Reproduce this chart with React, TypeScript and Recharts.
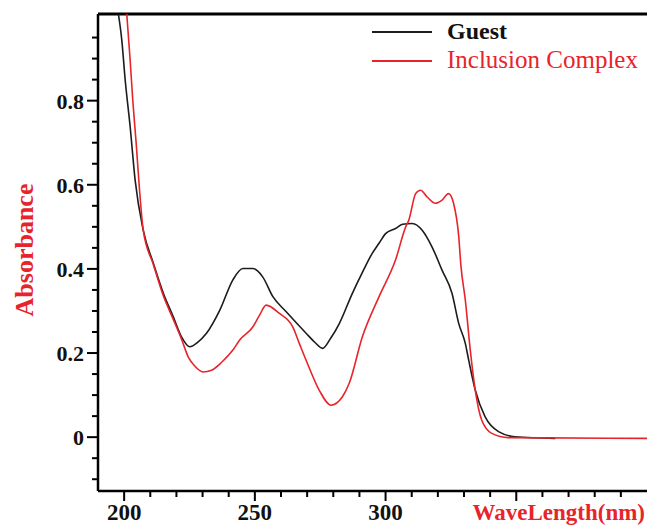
import React from 'react';
import { LineChart, Line, XAxis, YAxis, ReferenceLine, Legend } from 'recharts';

// ---- data ----
const guestWavelength = [197.8, 199.1, 200.4, 202.3, 204.2, 207.3, 211.2, 215.0, 218.8, 222.0, 225.1, 228.0, 231.5, 236.6, 241.6, 245.4, 249.2, 253.0, 256.9, 262.0, 269.6, 273.0, 275.9, 279.0, 282.3, 287.3, 291.0, 294.9, 297.5, 300.0, 303.8, 306.5, 310.2, 314.0, 317.8, 321.6, 325.4, 328.0, 330.5, 331.8, 334.3, 338.1, 343.2, 349.5, 364.9];
const guestAbsorbance = [1.006, 0.944, 0.849, 0.738, 0.611, 0.492, 0.413, 0.342, 0.286, 0.238, 0.215, 0.225, 0.247, 0.302, 0.374, 0.401, 0.401, 0.381, 0.334, 0.298, 0.247, 0.225, 0.211, 0.235, 0.270, 0.342, 0.390, 0.437, 0.461, 0.484, 0.496, 0.506, 0.508, 0.492, 0.452, 0.397, 0.342, 0.270, 0.223, 0.183, 0.112, 0.048, 0.013, 0.001, -0.003];

const complexWavelength = [201.0, 202.3, 203.3, 204.6, 205.8, 207.3, 211.2, 215.0, 218.8, 222.0, 224.5, 227.0, 230.2, 233.4, 237.3, 241.6, 244.2, 249.2, 251.8, 254.3, 259.4, 264.5, 267.0, 269.6, 274.6, 279.1, 283.5, 286.1, 291.1, 297.5, 303.8, 307.7, 308.9, 311.5, 313.4, 315.9, 319.1, 321.5, 324.1, 326.0, 328.0, 328.8, 330.5, 332.4, 334.3, 336.8, 340.6, 347.0, 400.0];
const complexAbsorbance = [1.006, 0.896, 0.801, 0.699, 0.595, 0.492, 0.410, 0.336, 0.280, 0.232, 0.191, 0.169, 0.155, 0.159, 0.178, 0.207, 0.231, 0.262, 0.290, 0.314, 0.294, 0.262, 0.223, 0.183, 0.112, 0.076, 0.096, 0.128, 0.238, 0.334, 0.421, 0.500, 0.516, 0.579, 0.587, 0.571, 0.556, 0.563, 0.579, 0.556, 0.476, 0.409, 0.326, 0.207, 0.112, 0.040, 0.009, -0.001, -0.003];

const seriesNames = ['Guest', 'Inclusion Complex'];
const seriesColors = ['#1c1c1c', '#e8242b'];

const xTicks = [200, 210, 220, 230, 240, 250, 260, 270, 280, 290, 300, 310, 320, 330, 340, 350, 360, 370, 380, 390];
const xLabelTicks = [200, 250, 300];
const yTicks = [-0.1, -0.05, 0, 0.05, 0.1, 0.15, 0.2, 0.25, 0.3, 0.35, 0.4, 0.45, 0.5, 0.55, 0.6, 0.65, 0.7, 0.75, 0.8, 0.85, 0.9, 0.95];
const yLabelTicks = ['0', '0.2', '0.4', '0.6', '0.8'];

const X_DOMAIN = [190, 400];
const Y_DOMAIN = [-0.128, 1.006];

const guestData = guestWavelength.map((w, i) => ({ w, a: guestAbsorbance[i] }));
const complexData = complexWavelength.map((w, i) => ({ w, a: complexAbsorbance[i] }));

const FONT = '"Liberation Serif", "Times New Roman", serif';

const XTick = (props: any) => {
  const { x, y, payload } = props;
  const v = payload.value;
  const major = Math.round(v) % 50 === 0;
  return (
    <g>
      <line x1={x} x2={x} y1={y} y2={y + (major ? 10 : 6)} stroke="#000" strokeWidth={2} />
      {xLabelTicks.includes(Math.round(v)) && (
        <text x={x} y={y + 29} textAnchor="middle" fontFamily={FONT} fontWeight="bold" fontSize={23} fill="#111">
          {v}
        </text>
      )}
    </g>
  );
};

const YTick = (props: any) => {
  const { x, y, payload } = props;
  const v = payload.value;
  const key = String(Math.round(v * 100) / 100);
  const major = Math.round(v * 100) % 20 === 0;
  return (
    <g>
      <line x1={x} x2={x - (major ? 11 : 6)} y1={y} y2={y} stroke="#000" strokeWidth={2} />
      {yLabelTicks.includes(key) && (
        <text x={x - 14} y={y + 8} textAnchor="end" fontFamily={FONT} fontWeight="bold" fontSize={22} fill="#111">
          {key}
        </text>
      )}
    </g>
  );
};

const renderLegend = () => (
  <svg width={647} height={80} style={{ display: 'block' }}>
    <line x1={372} x2={432} y1={32} y2={32} stroke={seriesColors[0]} strokeWidth={2} />
    <text x={447} y={39} fontFamily={FONT} fontWeight="bold" fontSize={24} fill="#111">{seriesNames[0]}</text>
    <line x1={372} x2={432} y1={61} y2={61} stroke={seriesColors[1]} strokeWidth={2} />
    <text x={447} y={68} fontFamily={FONT} fontSize={25} fill={seriesColors[1]}>{seriesNames[1]}</text>
  </svg>
);

export default function App() {
  return (
    <div style={{ position: 'absolute', left: 0, top: 0, width: 647, height: 526, background: '#fff' }}>
      <LineChart width={647} height={526} margin={{ top: 14, right: 0, bottom: 0, left: 0 }}>
        <XAxis
          dataKey="w"
          type="number"
          domain={X_DOMAIN}
          allowDataOverflow
          ticks={xTicks}
          interval={0}
          height={35}
          tickSize={0}
          tickMargin={0}
          tickLine={false}
          tick={<XTick />}
          axisLine={{ stroke: '#000', strokeWidth: 2.5 }}
          label={() => (
            <text x={645} y={520} textAnchor="end" fontFamily={FONT} fontWeight="bold" fontSize={23} fill="#e8242b">
              WaveLength(nm)
            </text>
          )}
        />
        <YAxis
          dataKey="a"
          type="number"
          domain={Y_DOMAIN}
          allowDataOverflow
          ticks={yTicks}
          interval={0}
          width={98}
          tickSize={0}
          tickMargin={0}
          tickLine={false}
          tick={<YTick />}
          axisLine={{ stroke: '#000', strokeWidth: 2.5 }}
          label={() => (
            <text x={33} y={250} transform="rotate(-90, 33, 250)" textAnchor="middle" fontFamily={FONT} fontWeight="bold" fontSize={26} fill="#e8242b">
              Absorbance
            </text>
          )}
        />
        <ReferenceLine y={Y_DOMAIN[1]} stroke="#000" strokeWidth={3} />
        <Legend layout="horizontal" verticalAlign="middle" align="center" content={renderLegend} wrapperStyle={{ position: 'absolute', left: 0, top: 0, width: 647, height: 80 }} />
        <Line data={guestData} dataKey="a" name={seriesNames[0]} type="monotone" stroke={seriesColors[0]} strokeWidth={1.6} dot={false} isAnimationActive={false} />
        <Line data={complexData} dataKey="a" name={seriesNames[1]} type="monotone" stroke={seriesColors[1]} strokeWidth={1.6} dot={false} isAnimationActive={false} />
      </LineChart>
    </div>
  );
}
